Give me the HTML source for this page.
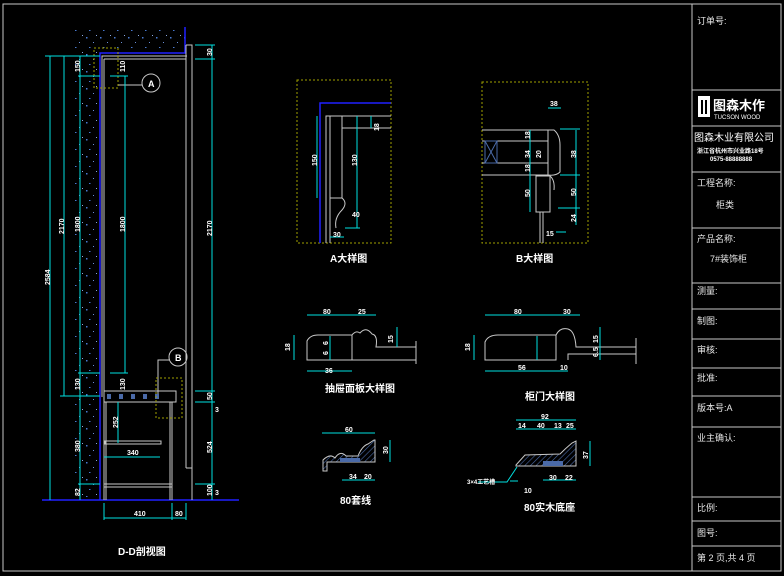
<!DOCTYPE html>
<html><head><meta charset="utf-8"><style>
html,body{margin:0;padding:0;background:#000;width:784px;height:576px;overflow:hidden}
svg{display:block}
text{font-family:"Liberation Sans","Noto Sans CJK SC",sans-serif;fill:#fff}
.c{stroke:#00e0e0;stroke-width:1;fill:none}
.g{stroke:#c8c8c8;stroke-width:1;fill:none}
.b{stroke:#2020ff;stroke-width:1.5;fill:none}
.y{stroke:#a0a000;stroke-width:1;fill:none;stroke-dasharray:2 2}
.w{stroke:#d0d0d0;stroke-width:1;fill:none}
.d{font-size:7px;font-weight:bold}
.t{font-size:10px;font-weight:bold}
.tb{font-size:9px;fill:#e8e8e8}
</style></head><body>
<svg width="784" height="576" viewBox="0 0 784 576">
<defs>
<pattern id="sp" width="14" height="17" patternUnits="userSpaceOnUse">
<rect x="2" y="3" width="1.5" height="1.5" fill="#4a7ad0"/>
<rect x="9" y="8" width="1" height="1" fill="#6a90d8"/>
<rect x="5" y="13" width="1.5" height="1" fill="#4a7ad0"/>
<rect x="12" y="1" width="1" height="1" fill="#8aa8e0"/>
</pattern>
<pattern id="ht" width="4" height="4" patternUnits="userSpaceOnUse" patternTransform="rotate(45)">
<line x1="0" y1="0" x2="0" y2="4" stroke="#4a6aa8" stroke-width="1.2"/>
</pattern>
</defs>
<!-- page frame -->
<rect x="3" y="4" width="778" height="567" fill="none" stroke="#c8c8c8"/>
<!-- title block -->
<g stroke="#c8c8c8" fill="none">
<line x1="692" y1="4" x2="692" y2="571"/>
<line x1="692" y1="90" x2="781" y2="90"/><line x1="692" y1="126" x2="781" y2="126"/>
<line x1="692" y1="172" x2="781" y2="172"/><line x1="692" y1="228" x2="781" y2="228"/>
<line x1="692" y1="283" x2="781" y2="283"/><line x1="692" y1="309" x2="781" y2="309"/>
<line x1="692" y1="339" x2="781" y2="339"/><line x1="692" y1="368" x2="781" y2="368"/>
<line x1="692" y1="396" x2="781" y2="396"/><line x1="692" y1="427" x2="781" y2="427"/>
<line x1="692" y1="497" x2="781" y2="497"/><line x1="692" y1="521" x2="781" y2="521"/>
<line x1="692" y1="546" x2="781" y2="546"/>
</g>
<text class="tb" x="697" y="24">订单号:</text>
<rect x="698" y="96" width="12" height="21" fill="#fff"/><rect x="701" y="100" width="2" height="14" fill="#000"/><rect x="705" y="100" width="2" height="14" fill="#000"/>
<text x="713" y="110" style="font-size:13px;font-weight:bold">图森木作</text>
<text x="714" y="119" style="font-size:6px">TUCSON WOOD</text>
<text x="694" y="141" style="font-size:10px">图森木业有限公司</text>
<text x="697" y="153" style="font-size:6px;font-weight:bold">浙江省杭州市兴业路18号</text>
<text x="710" y="161" style="font-size:6px;font-weight:bold">0575-88888888</text>
<text class="tb" x="697" y="186">工程名称:</text>
<text class="tb" x="716" y="208">柜类</text>
<text class="tb" x="697" y="242">产品名称:</text>
<text class="tb" x="710" y="262">7#装饰柜</text>
<text class="tb" x="697" y="294">测量:</text>
<text class="tb" x="697" y="324">制图:</text>
<text class="tb" x="697" y="353">审核:</text>
<text class="tb" x="697" y="381">批准:</text>
<text class="tb" x="697" y="411">版本号:A</text>
<text class="tb" x="697" y="441">业主确认:</text>
<text class="tb" x="697" y="511">比例:</text>
<text class="tb" x="697" y="536">图号:</text>
<text class="tb" x="697" y="561">第 2 页,共 4 页</text>

<!-- main section -->
<rect x="75" y="27" width="25" height="470" fill="url(#sp)"/>
<rect x="100" y="27" width="85" height="24" fill="url(#sp)"/>
<g class="b"><line x1="42" y1="500" x2="239" y2="500"/><polyline points="100,500 100,53 185,53 185,27"/></g>
<g class="g">
<polyline points="102,397 102,56 187,56"/><line x1="104" y1="59" x2="186" y2="59"/>
<line x1="104" y1="59" x2="104" y2="397"/>
<polyline points="186,45 192,45 192,500"/><line x1="186" y1="45" x2="186" y2="468"/>
<rect x="104" y="391" width="72" height="11"/>
<line x1="104" y1="402" x2="104" y2="500"/><line x1="106" y1="402" x2="106" y2="500"/>
<line x1="170" y1="402" x2="170" y2="500"/><line x1="172" y1="402" x2="172" y2="500"/>
<rect x="105" y="441" width="56" height="3"/>
<line x1="104" y1="484" x2="172" y2="484"/><line x1="104" y1="487" x2="172" y2="487"/>
<line x1="186" y1="468" x2="192" y2="468"/>
<circle cx="151" cy="83" r="9"/><line x1="118" y1="85" x2="142" y2="85"/>
<circle cx="178" cy="357" r="9"/><polyline points="158,394 158,360 169,360"/>
</g>
<g fill="#4a6aa8"><rect x="107" y="394" width="4" height="5"/><rect x="119" y="394" width="4" height="5"/><rect x="131" y="394" width="4" height="5"/><rect x="143" y="394" width="4" height="5"/><rect x="155" y="394" width="4" height="5"/></g>
<text x="148" y="87" style="font-size:9px;font-weight:bold">A</text>
<text x="175" y="361" style="font-size:9px;font-weight:bold">B</text>
<rect x="94" y="48" width="24" height="40" class="y"/>
<rect x="156" y="378" width="26" height="40" class="y"/>
<g class="c">
<line x1="50" y1="56" x2="50" y2="500"/><line x1="45" y1="56" x2="100" y2="56"/>
<line x1="64" y1="56" x2="64" y2="396"/><line x1="60" y1="396" x2="100" y2="396"/>
<line x1="80" y1="56" x2="80" y2="500"/>
<line x1="78" y1="76" x2="100" y2="76"/><line x1="78" y1="373" x2="100" y2="373"/>
<line x1="78" y1="484" x2="100" y2="484"/>
<line x1="125" y1="76" x2="125" y2="373"/><line x1="110" y1="76" x2="128" y2="76"/><line x1="110" y1="373" x2="128" y2="373"/>
<line x1="212" y1="45" x2="212" y2="500"/><line x1="195" y1="45" x2="215" y2="45"/><line x1="195" y1="59" x2="215" y2="59"/>
<line x1="195" y1="391" x2="215" y2="391"/><line x1="195" y1="402" x2="215" y2="402"/><line x1="195" y1="484" x2="215" y2="484"/>
<line x1="118" y1="402" x2="118" y2="443"/>
<line x1="104" y1="457" x2="160" y2="457"/>
<line x1="104" y1="518" x2="186" y2="518"/><line x1="104" y1="503" x2="104" y2="520"/><line x1="172" y1="503" x2="172" y2="520"/><line x1="186" y1="503" x2="186" y2="520"/>
</g>
<g class="d">
<text transform="translate(50,285) rotate(-90)">2584</text>
<text transform="translate(64,234) rotate(-90)">2170</text>
<text transform="translate(80,72) rotate(-90)">150</text>
<text transform="translate(80,232) rotate(-90)">1800</text>
<text transform="translate(80,390) rotate(-90)">130</text>
<text transform="translate(80,452) rotate(-90)">380</text>
<text transform="translate(80,496) rotate(-90)">82</text>
<text transform="translate(125,72) rotate(-90)">110</text>
<text transform="translate(125,232) rotate(-90)">1800</text>
<text transform="translate(125,390) rotate(-90)">130</text>
<text transform="translate(212,56) rotate(-90)">30</text>
<text transform="translate(212,236) rotate(-90)">2170</text>
<text transform="translate(212,400) rotate(-90)">50</text>
<text transform="translate(212,453) rotate(-90)">524</text>
<text transform="translate(212,496) rotate(-90)">100</text>
<text transform="translate(118,428) rotate(-90)">252</text>
<text x="127" y="455">340</text>
<text x="134" y="516">410</text>
<text x="175" y="516">80</text>
<text x="215" y="412">3</text><text x="215" y="495">3</text>
</g>
<text class="t" x="118" y="555">D-D剖视图</text>

<!-- detail A -->
<rect x="297" y="80" width="94" height="163" class="y"/>
<polyline class="b" points="320,243 320,103 391,103"/>
<g class="g">
<polyline points="326,243 326,116 391,116"/><line x1="330" y1="116" x2="330" y2="243"/>
<polyline points="342,116 342,128 391,128"/><line x1="342" y1="128" x2="342" y2="198"/>
<path d="M330,198 L342,198 Q348,203 342,210 Q334,218 336,228"/>
</g>
<g class="c"><line x1="317" y1="116" x2="317" y2="198"/><line x1="357" y1="116" x2="357" y2="228"/><line x1="345" y1="228" x2="360" y2="228"/><line x1="371" y1="116" x2="371" y2="128"/><line x1="330" y1="237" x2="344" y2="237"/></g>
<g class="d"><text transform="translate(317,166) rotate(-90)">150</text><text transform="translate(357,166) rotate(-90)">130</text><text transform="translate(379,131) rotate(-90)">18</text><text x="352" y="217">40</text><text x="333" y="237">30</text></g>
<text class="t" x="330" y="262">A大样图</text>

<!-- detail B -->
<rect x="482" y="82" width="106" height="161" class="y"/>
<g class="g">
<line x1="482" y1="130" x2="548" y2="130"/><line x1="482" y1="141" x2="548" y2="141"/>
<line x1="482" y1="163" x2="548" y2="163"/><line x1="482" y1="175" x2="548" y2="175"/>
<path d="M548,130 L554,130 Q560,135 560,145 L560,172 Q556,176 548,175"/>
<line x1="548" y1="130" x2="548" y2="175"/>
<rect x="536" y="176" width="14" height="36"/>
<path d="M550,176 Q555,180 554,190"/>
<line x1="540" y1="212" x2="540" y2="243"/><line x1="543" y1="212" x2="543" y2="243"/>
</g>
<rect x="485" y="141" width="12" height="22" fill="none" stroke="#4a6aa8"/><path d="M485,141 L497,163 M497,141 L485,163" stroke="#4a6aa8"/>
<g class="c"><line x1="530" y1="130" x2="530" y2="212"/><line x1="576" y1="130" x2="576" y2="225"/><line x1="548" y1="108" x2="561" y2="108"/><line x1="560" y1="129" x2="580" y2="129"/><line x1="560" y1="175" x2="580" y2="175"/><line x1="558" y1="208" x2="580" y2="208"/><line x1="556" y1="232" x2="566" y2="232"/></g>
<g class="d"><text x="550" y="106">38</text><text transform="translate(530,139) rotate(-90)">18</text><text transform="translate(530,158) rotate(-90)">34</text><text transform="translate(541,158) rotate(-90)">20</text><text transform="translate(530,172) rotate(-90)">18</text><text transform="translate(530,197) rotate(-90)">50</text><text transform="translate(576,158) rotate(-90)">38</text><text transform="translate(576,196) rotate(-90)">50</text><text transform="translate(576,222) rotate(-90)">24</text><text x="546" y="236">15</text></g>
<text class="t" x="516" y="262">B大样图</text>

<!-- drawer panel detail -->
<g class="g">
<path d="M307,360 L307,341 Q310,335 318,335 L352,335 L352,360 Z"/>
<path d="M352,335 Q356,330 360,333 Q366,326 372,334 Q378,335 376,347 L416,347 L416,360 L352,360"/>
<line x1="416" y1="341" x2="416" y2="364"/>
</g>
<g class="c"><line x1="307" y1="315" x2="376" y2="315"/><line x1="307" y1="371" x2="352" y2="371"/><line x1="294" y1="335" x2="294" y2="360"/><line x1="397" y1="327" x2="397" y2="347"/><line x1="330" y1="336" x2="330" y2="360"/></g>
<g class="d"><text x="323" y="314">80</text><text x="358" y="314">25</text><text x="325" y="373">36</text><text transform="translate(290,351) rotate(-90)">18</text><text transform="translate(393,343) rotate(-90)">15</text><text transform="translate(328,345) rotate(-90)">6</text><text transform="translate(328,355) rotate(-90)">6</text></g>
<text class="t" x="325" y="392">抽屉面板大样图</text>

<!-- door detail -->
<g class="g">
<path d="M485,360 L485,342 Q488,335 498,335 L556,335 L556,360 Z"/>
<path d="M556,335 Q560,327 568,329 Q575,331 576,347 L636,347 L636,354 L568,354 L568,360"/>
<line x1="636" y1="338" x2="636" y2="364"/>
</g>
<g class="c"><line x1="485" y1="315" x2="580" y2="315"/><line x1="485" y1="371" x2="568" y2="371"/><line x1="474" y1="335" x2="474" y2="360"/><line x1="600" y1="327" x2="600" y2="360"/><line x1="537" y1="336" x2="537" y2="360"/></g>
<g class="d"><text x="514" y="314">80</text><text x="563" y="314">30</text><text x="518" y="370">56</text><text x="560" y="370">10</text><text transform="translate(470,351) rotate(-90)">18</text><text transform="translate(598,343) rotate(-90)">15</text><text transform="translate(598,357) rotate(-90)">6.5</text></g>
<text class="t" x="525" y="400">柜门大样图</text>

<!-- 80 套线 -->
<path d="M323,471 L323,460 Q330,453 335,458 Q340,450 346,456 L358,456 Q362,446 368,444 L374,440 L375,440 L375,462 L327,462 L327,471 Z" fill="url(#ht)" stroke="#c8c8c8"/>
<rect x="340" y="458" width="20" height="4" fill="#4a6aa8"/>
<g class="c"><line x1="322" y1="433" x2="375" y2="433"/><line x1="390" y1="440" x2="390" y2="462"/><line x1="342" y1="480" x2="375" y2="480"/></g>
<g class="d"><text x="345" y="432">60</text><text transform="translate(388,454) rotate(-90)">30</text><text x="349" y="479">34</text><text x="364" y="479">20</text></g>
<text class="t" x="340" y="504">80套线</text>

<!-- 80 实木底座 -->
<path d="M516,465 L525,455 L560,454 Q566,448 572,443 L576,441 L576,466 L516,466 Z" fill="url(#ht)" stroke="#c8c8c8"/>
<rect x="543" y="461" width="20" height="5" fill="#4a6aa8"/>
<g class="c"><line x1="516" y1="420" x2="576" y2="420"/><line x1="516" y1="429" x2="576" y2="429"/><line x1="590" y1="441" x2="590" y2="466"/><line x1="543" y1="480" x2="576" y2="480"/><line x1="510" y1="481" x2="518" y2="481"/><polyline points="478,482 507,482 517,467"/></g>
<g class="d"><text x="541" y="419">92</text><text x="518" y="428">14</text><text x="537" y="428">40</text><text x="554" y="428">13</text><text x="566" y="428">25</text><text transform="translate(588,459) rotate(-90)">37</text><text x="549" y="480">30</text><text x="565" y="480">22</text><text x="467" y="484" style="font-size:6px">3×4工艺槽</text><text x="524" y="493">10</text></g>
<text class="t" x="524" y="511">80实木底座</text>
</svg>
</body></html>
